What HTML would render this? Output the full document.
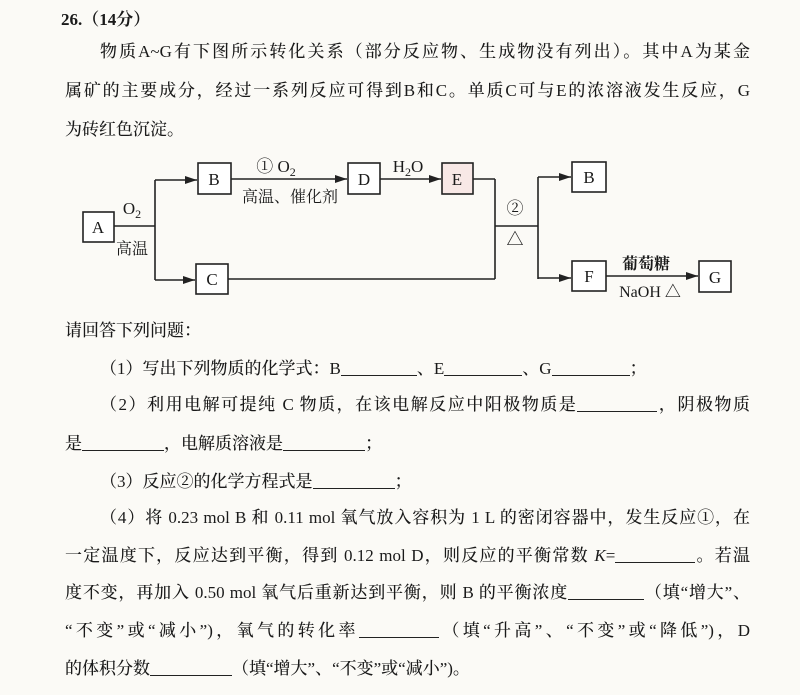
<!DOCTYPE html>
<html><head><meta charset="utf-8"><style>
html,body{margin:0;padding:0;background:#fbfaf6;}
body{width:800px;height:695px;position:relative;overflow:hidden;font-family:"Liberation Serif","Noto Serif CJK SC",serif;color:#1a1a1a;}
.l{position:absolute;font-size:17px;line-height:22px;white-space:nowrap;font-weight:500;}
.j{text-align:justify;text-align-last:justify;white-space:normal;height:22px;}
.u{display:inline-block;border-bottom:1.3px solid #222;height:16px;vertical-align:-2px;}
svg text{font-family:"Liberation Serif","Noto Serif CJK SC",serif;fill:#1a1a1a;}
</style></head><body>
<div class="l" style="left:61px;top:9px;font-weight:bold">26.（14分）</div>
<div class="l j" style="left:100px;top:41px;width:650px">物质A~G有下图所示转化关系（部分反应物、生成物没有列出）。其中A为某金</div>
<div class="l j" style="left:65px;top:80px;width:685px">属矿的主要成分，经过一系列反应可得到B和C。单质C可与E的浓溶液发生反应，G</div>
<div class="l" style="left:65px;top:119px">为砖红色沉淀。</div>

<svg width="800" height="695" style="position:absolute;left:0;top:0" xmlns="http://www.w3.org/2000/svg">
<defs><marker id="ar" markerWidth="12" markerHeight="8" refX="12" refY="4" orient="auto" markerUnits="userSpaceOnUse"><path d="M0,0 L12,4 L0,8 Z" fill="#222"/></marker></defs>
<g stroke="#222" stroke-width="1.6" fill="none">
<rect x="83" y="212" width="31" height="30" fill="#fff"/>
<rect x="198" y="163" width="33" height="31" fill="#fff"/>
<rect x="196" y="264" width="32" height="30" fill="#fff"/>
<rect x="348" y="163" width="32" height="31" fill="#fff"/>
<rect x="442" y="163" width="31" height="31" fill="#f8e8e6"/>
<rect x="572" y="162" width="34" height="30" fill="#fff"/>
<rect x="572" y="261" width="34" height="30" fill="#fff"/>
<rect x="699" y="261" width="32" height="31" fill="#fff"/>
<line x1="114" y1="226" x2="155" y2="226"/>
<line x1="155" y1="180" x2="155" y2="280"/>
<line x1="155" y1="180" x2="197" y2="180" marker-end="url(#ar)"/>
<line x1="155" y1="280" x2="195" y2="280" marker-end="url(#ar)"/>
<line x1="231" y1="179" x2="347" y2="179" marker-end="url(#ar)"/>
<line x1="380" y1="179" x2="441" y2="179" marker-end="url(#ar)"/>
<line x1="473" y1="179" x2="495" y2="179"/>
<line x1="228" y1="279" x2="495" y2="279"/>
<line x1="495" y1="179" x2="495" y2="279"/>
<line x1="495" y1="226" x2="538" y2="226"/>
<line x1="538" y1="177" x2="538" y2="279"/>
<line x1="538" y1="177" x2="571" y2="177" marker-end="url(#ar)"/>
<line x1="538" y1="278" x2="571" y2="278" marker-end="url(#ar)"/>
<line x1="606" y1="276" x2="698" y2="276" marker-end="url(#ar)"/>
</g>
<g font-size="17" text-anchor="middle">
<text x="98" y="233">A</text>
<text x="214" y="185">B</text>
<text x="212" y="285">C</text>
<text x="364" y="185">D</text>
<text x="457" y="185">E</text>
<text x="589" y="183">B</text>
<text x="589" y="282">F</text>
<text x="715" y="283">G</text>
<text x="132" y="214">O<tspan font-size="12" dy="4">2</tspan></text>
<text x="132" y="254" font-size="16">高温</text>
<text x="276" y="172">①  O<tspan font-size="12" dy="4">2</tspan></text>
<text x="290" y="202" font-size="16">高温、催化剂</text>
<text x="408" y="172">H<tspan font-size="12" dy="4">2</tspan><tspan dy="-4">O</tspan></text>
<text x="515" y="214">②</text>
<text x="515" y="245" font-weight="bold">△</text>
<text x="646" y="269" font-size="16" font-weight="bold">葡萄糖</text>
<text x="650" y="297" font-size="16">NaOH △</text>
</g>
</svg>

<div class="l" style="left:65px;top:320px">请回答下列问题：</div>
<div class="l" style="left:100px;top:358px">（1）写出下列物质的化学式：B<span class="u" style="width:76px"></span>、E<span class="u" style="width:78px"></span>、G<span class="u" style="width:78px"></span>；</div>
<div class="l j" style="left:100px;top:394px;width:650px">（2）利用电解可提纯 C 物质，在该电解反应中阳极物质是<span class="u" style="width:80px"></span>，阴极物质</div>
<div class="l" style="left:65px;top:433px">是<span class="u" style="width:82px"></span>，电解质溶液是<span class="u" style="width:82px"></span>；</div>
<div class="l" style="left:100px;top:471px">（3）反应②的化学方程式是<span class="u" style="width:82px"></span>；</div>
<div class="l j" style="left:100px;top:507px;width:650px">（4）将 0.23 mol B 和 0.11 mol 氧气放入容积为 1 L 的密闭容器中，发生反应①，在</div>
<div class="l j" style="left:65px;top:545px;width:685px">一定温度下，反应达到平衡，得到 0.12 mol D，则反应的平衡常数 <i>K</i>=<span class="u" style="width:80px"></span>。若温</div>
<div class="l j" style="left:65px;top:582px;width:685px">度不变，再加入 0.50 mol 氧气后重新达到平衡，则 B 的平衡浓度<span class="u" style="width:76px"></span>（填“增大”、</div>
<div class="l j" style="left:65px;top:620px;width:685px">“不变”或“减小”)，氧气的转化率<span class="u" style="width:80px"></span>（填“升高”、“不变”或“降低”)，D</div>
<div class="l" style="left:65px;top:658px">的体积分数<span class="u" style="width:82px"></span>（填“增大”、“不变”或“减小”)。</div>
</body></html>
